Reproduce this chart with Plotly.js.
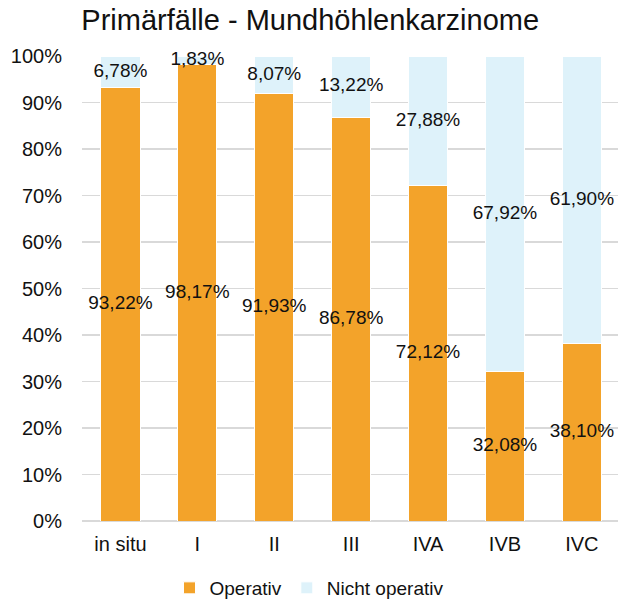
<!DOCTYPE html>
<html>
<head>
<meta charset="utf-8">
<script src="https://cdn.plot.ly/plotly-3.0.1.min.js"></script>
<style>html,body{margin:0;padding:0;background:#fff}#chart{width:618px;height:600px}</style>
</head>
<body>
<div id="chart"></div>
<script>
const categories = ['in situ', 'I', 'II', 'III', 'IVA', 'IVB', 'IVC'];
const operativ = [93.22, 98.17, 91.93, 86.78, 72.12, 32.08, 38.10];
const nichtOperativ = [6.78, 1.83, 8.07, 13.22, 27.88, 67.92, 61.90];
const seriesNames = ['Operativ', 'Nicht operativ'];
const yTickVals = [0, 10, 20, 30, 40, 50, 60, 70, 80, 90, 100];

const fmt = v => v.toFixed(2).replace('.', ',') + '%';
const font = 'Arial, "Liberation Sans", sans-serif';
const orange = '#F3A32A';
const blue = '#DEF2FA';

const traces = [
  {type: 'bar', name: seriesNames[0], x: categories, y: operativ,
   marker: {color: orange, line: {color: '#ffffff', width: 1}}, hoverinfo: 'none'},
  {type: 'bar', name: seriesNames[1], x: categories, y: nichtOperativ,
   marker: {color: blue, line: {color: '#ffffff', width: 1}}, hoverinfo: 'none'},
  {type: 'scatter', mode: 'text', x: categories, y: operativ.map(v => v / 2),
   text: operativ.map(fmt), textfont: {family: font, size: 19, color: '#111'},
   showlegend: false, hoverinfo: 'none', cliponaxis: false},
  {type: 'scatter', mode: 'text', x: categories, y: operativ.map((v, i) => v + nichtOperativ[i] / 2),
   text: nichtOperativ.map(fmt), textfont: {family: font, size: 19, color: '#111'},
   showlegend: false, hoverinfo: 'none', cliponaxis: false}
];

const layout = {
  width: 618, height: 600,
  margin: {l: 82, r: 0, t: 56, b: 79},
  paper_bgcolor: '#fff', plot_bgcolor: '#fff',
  barmode: 'stack', bargap: 0.49,
  font: {family: font, size: 20, color: '#111'},
  title: {text: 'Primärfälle - Mundhöhlenkarzinome', font: {family: font, size: 29, color: '#111'},
          x: 0.502, xref: 'container', xanchor: 'center', y: 0.967, yref: 'container', yanchor: 'middle'},
  xaxis: {type: 'category', range: [-0.5, 6.47], showgrid: false, showline: false, zeroline: false,
          ticks: '', tickfont: {family: font, size: 20, color: '#111'}, ticklabelstandoff: 9, fixedrange: true},
  yaxis: {range: [0, 100], tickvals: yTickVals, ticktext: yTickVals.map(v => v + '%'),
          showgrid: true, gridcolor: '#D9D9D9', gridwidth: 1.5, zeroline: true, zerolinecolor: '#D9D9D9', zerolinewidth: 1.5,
          showline: false, ticks: '', tickfont: {family: font, size: 20, color: '#111'}, ticklabelstandoff: 19, fixedrange: true},
  showlegend: true,
  legend: {orientation: 'h', xref: 'container', yref: 'container', x: 0.5, xanchor: 'center', y: 0.02, yanchor: 'middle',
           font: {family: font, size: 19, color: '#111'}, itemclick: false, traceorder: 'normal'}
};

Plotly.newPlot('chart', traces, layout, {displayModeBar: false, staticPlot: true});
</script>
</body>
</html>
